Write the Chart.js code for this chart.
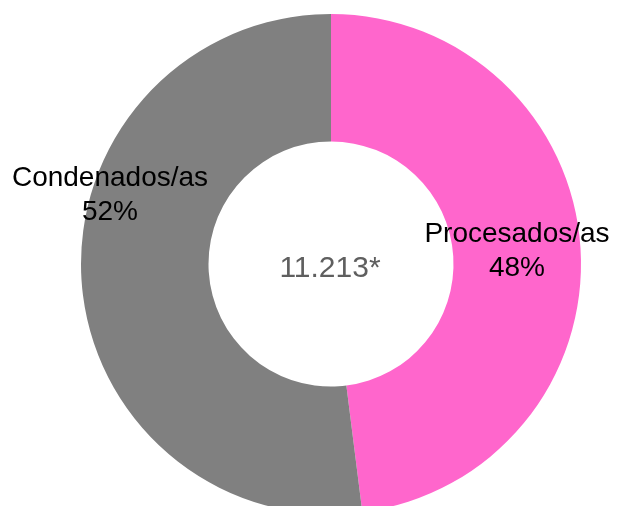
<!DOCTYPE html>
<html>
<head>
<meta charset="utf-8">
<script src="https://cdn.jsdelivr.net/npm/chart.js@4/dist/chart.umd.min.js"></script>
<style>
  html, body { margin: 0; padding: 0; background: #fff; overflow: hidden; }
  canvas { display: block; }
</style>
</head>
<body>
<canvas id="donutChart" width="619" height="528"></canvas>
<script>
// Chart data
const categories = ['Procesados/as', 'Condenados/as'];
const shares = [48, 52];
const sliceColors = ['#FF66CC', '#808080'];
const totalLabel = '11.213*';

// Label baselines for each slice (name line, then percentage line)
const labelSpots = [
  { x: 517, y: 242 },
  { x: 110, y: 186 }
];

// Plugin to write category names, percentages and the total in the hole
const sliceLabels = {
  id: 'sliceLabels',
  afterDatasetsDraw(chart) {
    const ctx = chart.ctx;
    const meta = chart.getDatasetMeta(0);
    ctx.save();
    ctx.textAlign = 'center';
    ctx.textBaseline = 'alphabetic';
    ctx.fillStyle = '#000';
    ctx.font = '28px "Liberation Sans", Arial, sans-serif';
    categories.forEach((name, i) => {
      const spot = labelSpots[i];
      ctx.fillText(name, spot.x, spot.y);
      ctx.fillText(shares[i] + '%', spot.x, spot.y + 34);
    });

    // Total in the centre
    const arc = meta.data[0];
    ctx.fillStyle = '#5f5f5f';
    ctx.font = '30px "Liberation Sans", Arial, sans-serif';
    ctx.fillText(totalLabel, arc.x - 1, arc.y + 13);
    ctx.restore();
  }
};

const ctx = document.getElementById('donutChart').getContext('2d');
window.donutChart = new Chart(ctx, {
  type: 'doughnut',
  data: {
    labels: categories,
    datasets: [
      {
        data: shares,
        backgroundColor: sliceColors,
        borderWidth: 0,
        hoverOffset: 0
      }
    ]
  },
  options: {
    responsive: false,
    animation: false,
    cutout: '49%',
    layout: { padding: { top: 14, bottom: 14, left: 43, right: 0 } },
    plugins: {
      legend: { display: false },
      tooltip: { enabled: false }
    }
  },
  plugins: [sliceLabels]
});
</script>
</body>
</html>
